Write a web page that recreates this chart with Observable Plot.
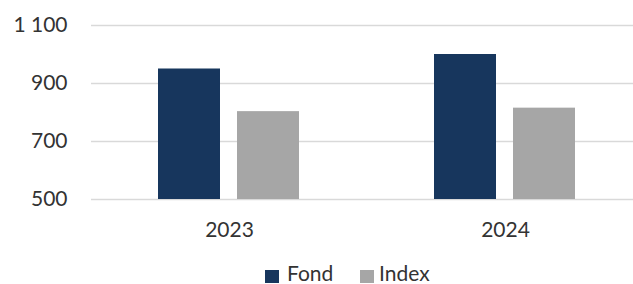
<!DOCTYPE html>
<html>
<head>
<meta charset="utf-8">
<script src="https://cdn.jsdelivr.net/npm/d3@7"></script>
<script src="https://cdn.jsdelivr.net/npm/@observablehq/plot@0.6"></script>
<style>
  html, body { margin: 0; padding: 0; background: #fff; overflow: hidden; }
  body { width: 633px; height: 284px; font-family: Lato, "Open Sans", sans-serif; position: relative; }
  #legend { position: absolute; left: 0; top: 250px; width: 633px; height: 34px; font-size: 21px; color: #333; }
  .sw { position: absolute; width: 14px; height: 13px; top: 20px; }
  .lt { position: absolute; top: 12px; line-height: 21px; white-space: nowrap; }
</style>
</head>
<body>
<div id="chart"></div>
<div id="legend"></div>
<script>
const years = ["2023", "2024"];
const series = ["Fond", "Index"];
const fondValues = [950, 1000];
const indexValues = [803, 815];
const colors = ["#17365d", "#a6a6a6"];
const yTicks = [500, 700, 900, 1100];

const data = [];
years.forEach((yr, i) => {
  data.push({year: yr, series: "Fond", value: fondValues[i]});
  data.push({year: yr, series: "Index", value: indexValues[i]});
});

const fmt = v => String(v).replace(/\B(?=(\d{3})+(?!\d))/g, " ");

const chart = Plot.plot({
  width: 633,
  height: 250,
  marginLeft: 90,
  marginRight: -10,
  marginTop: 25,
  marginBottom: 51,
  style: {fontFamily: "Lato, 'Open Sans', sans-serif", fontSize: "21px", color: "#333", overflow: "visible"},
  fx: {domain: years, padding: 0, label: null},
  x: {domain: series, paddingInner: 0.215, paddingOuter: 0.854, axis: null},
  y: {domain: [500, 1100], ticks: yTicks, label: null},
  color: {domain: series, range: colors},
  marks: [
    Plot.gridY(yTicks, {stroke: "#d9d9d9", strokeWidth: 1.5, strokeOpacity: 1}),
    Plot.axisY(yTicks, {tickSize: 0, tickPadding: 24, tickFormat: fmt, fontSize: 21, fill: "#333"}),
    Plot.axisFx({anchor: "bottom", tickSize: 0, tickPadding: 23, fontSize: 21, fill: "#333"}),
    Plot.barY(data, {fx: "year", x: "series", y1: 500, y2: "value", fill: "series"})
  ]
});
document.getElementById("chart").appendChild(chart);

const legend = document.getElementById("legend");
const swLeft = [265, 360];
const txtLeft = [287, 379];
series.forEach((s, i) => {
  const sw = document.createElement("div");
  sw.className = "sw";
  sw.style.background = colors[i];
  sw.style.left = swLeft[i] + "px";
  const t = document.createElement("span");
  t.className = "lt";
  t.style.left = txtLeft[i] + "px";
  t.textContent = s;
  legend.appendChild(sw);
  legend.appendChild(t);
});
</script>
</body>
</html>
